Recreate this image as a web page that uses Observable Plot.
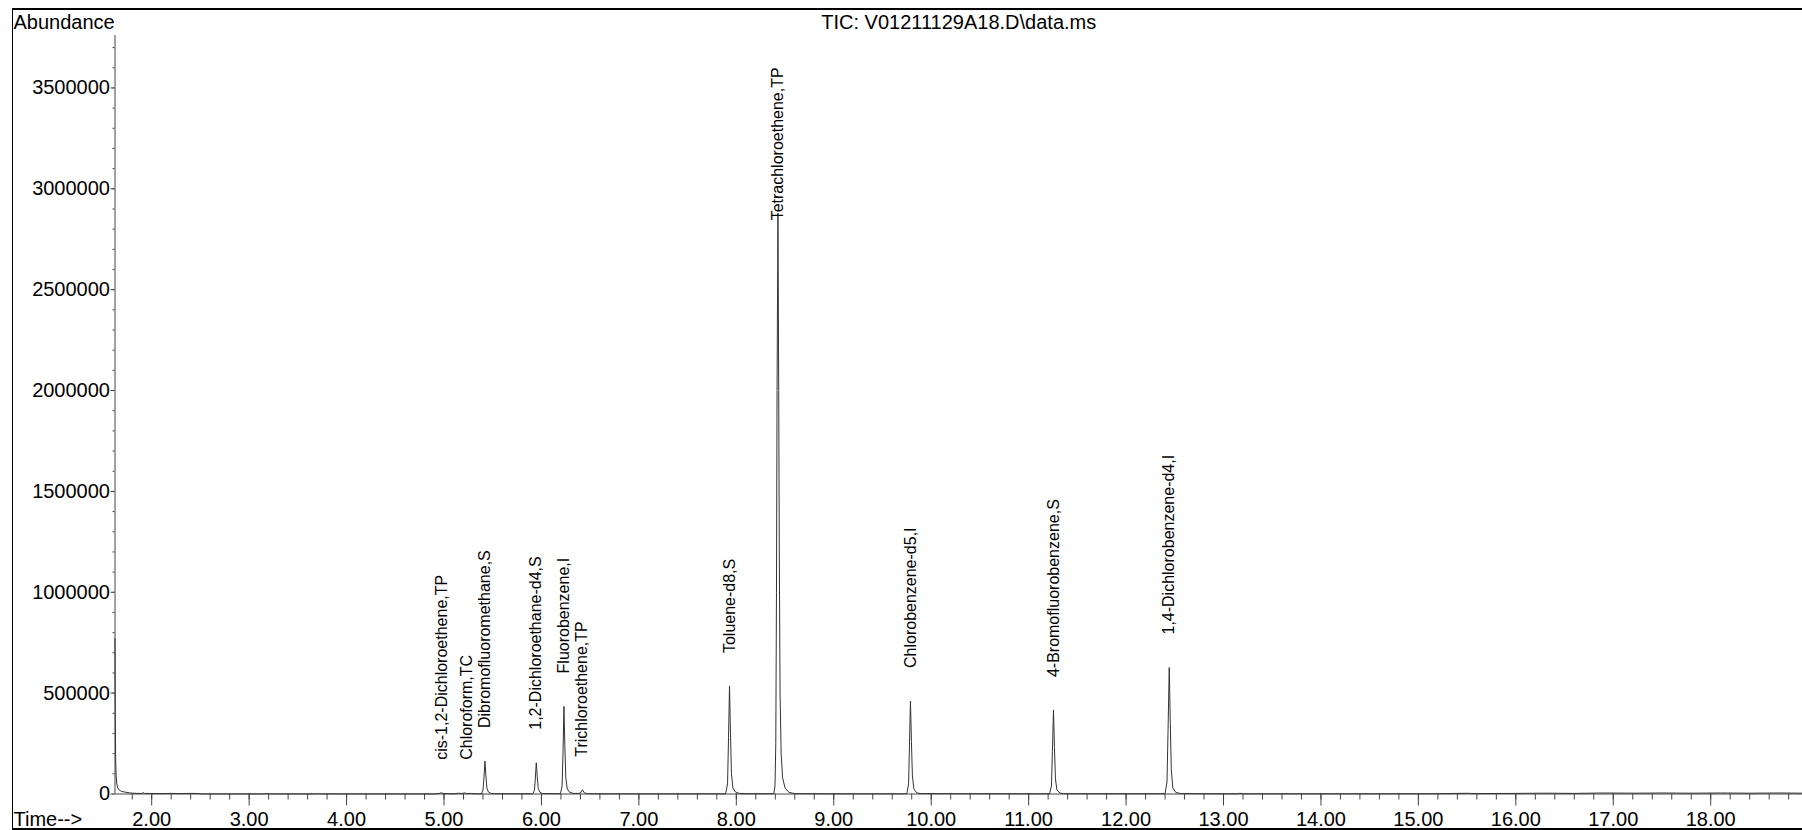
<!DOCTYPE html>
<html>
<head>
<meta charset="utf-8">
<script src="https://cdn.jsdelivr.net/npm/d3@7"></script>
<script src="https://cdn.jsdelivr.net/npm/@observablehq/plot@0.6"></script>
<style>
  html, body { margin: 0; padding: 0; background: #fff; }
  #wrap { position: relative; width: 1802px; height: 830px; overflow: hidden; }
  #wrap svg { position: absolute; left: 0; top: 0; }
  #border {
    position: absolute; left: 12px; top: 8px; width: 1790px; height: 818px;
    border-left: 1px solid #000; border-top: 2px solid #000; border-bottom: 2px solid #000;
    pointer-events: none;
  }
</style>
</head>
<body>
<div id="wrap"><div id="border"></div></div>
<script>
// Total ion chromatogram, run V01211129A18
const fileTitle = "TIC: V01211129A18.D\\data.ms";
const yTitle = "Abundance";
const xTitle = "Time-->";

// Retention-time window shown (minutes) and abundance range
const timeDomain = [1.6234, 18.942];
const abundanceDomain = [0, 3760000];

// Axis tick values
const xTicks = [2, 3, 4, 5, 6, 7, 8, 9, 10, 11, 12, 13, 14, 15, 16, 17, 18];
const yTicks = [0, 500000, 1000000, 1500000, 2000000, 2500000, 3000000, 3500000];

// Identified compounds: name, retention time, label anchor abundance
const peakNames = [
  "cis-1,2-Dichloroethene,TP", "Chloroform,TC", "Dibromofluoromethane,S",
  "1,2-Dichloroethane-d4,S", "Fluorobenzene,I", "Trichloroethene,TP",
  "Toluene-d8,S", "Tetrachloroethene,TP", "Chlorobenzene-d5,I",
  "4-Bromofluorobenzene,S", "1,4-Dichlorobenzene-d4,I"
];
const peakTimes = [4.98, 5.23, 5.42, 5.947, 6.231, 6.42, 7.93, 8.427, 9.787, 11.255, 12.443];
const labelLevels = [6000, 6000, 163000, 155000, 434000, 21000, 535000, 2680000, 461000, 416000, 627000];

// TIC trace: retention time (min)
const traceTime = [
  1.623, 1.626, 1.630, 1.635, 1.642, 1.652, 1.665, 1.690, 1.730, 1.780, 1.850, 1.900, 1.912, 1.925,
  2.000, 2.100, 2.200, 2.300, 2.400, 2.480, 2.520, 3.150, 3.180, 3.210, 3.700, 3.720, 3.740,
  3.820, 3.840, 3.860, 4.900, 4.950, 4.970, 4.990, 5.100, 5.150, 5.180, 5.210, 5.240, 5.280, 5.320,
  5.385, 5.400, 5.410, 5.420, 5.430, 5.440, 5.455, 5.480, 5.520,
  5.910, 5.928, 5.937, 5.947, 5.957, 5.967, 5.985, 6.010,
  6.195, 6.212, 6.222, 6.231, 6.240, 6.250, 6.265, 6.290, 6.330, 6.380,
  6.400, 6.420, 6.440, 6.470, 6.520, 7.000, 7.500,
  7.890, 7.910, 7.920, 7.930, 7.940, 7.950, 7.965, 7.990, 8.030, 8.100, 8.300,
  8.385, 8.397, 8.405, 8.412, 8.418, 8.427, 8.435, 8.441, 8.449, 8.460, 8.475, 8.500, 8.540, 8.600,
  9.000, 9.700,
  9.750, 9.768, 9.777, 9.787, 9.797, 9.807, 9.822, 9.850, 9.890, 11.000,
  11.215, 11.234, 11.244, 11.255, 11.265, 11.275, 11.290, 11.320, 11.360,
  12.400, 12.420, 12.431, 12.443, 12.454, 12.464, 12.480, 12.510, 12.560,
  13.150, 13.170, 13.190, 14.500, 15.200, 15.500, 15.600, 16.000, 16.300, 16.600, 16.900,
  17.200, 17.500, 17.800, 18.100, 18.400, 18.700, 18.942
];
// TIC trace: abundance
const traceAbundance = [
  770000, 420000, 180000, 90000, 50000, 30000, 20000, 13000, 9000, 5000, 3000, 2500, 7000, 3000,
  2500, 2000, 3000, 2000, 3000, 2500, 500, 500, 2500, 500, 500, 2000, 500,
  500, 2000, 500, 500, 2500, 6000, 2500, 1000, 4000, 2000, 5000, 2000, 3000, 1000,
  1000, 20000, 80000, 163000, 90000, 30000, 10000, 3000, 1500,
  1000, 18000, 75000, 155000, 85000, 28000, 8000, 2500,
  1500, 40000, 220000, 434000, 240000, 80000, 25000, 8000, 3000, 3000,
  5000, 21000, 6000, 2000, 1000, 800, 800,
  1000, 50000, 280000, 535000, 300000, 100000, 30000, 10000, 3000, 1500, 1500,
  2000, 40000, 250000, 1000000, 2000000, 2880000, 2000000, 1200000, 500000, 200000, 80000, 30000, 8000, 2000,
  1000, 1000,
  1500, 50000, 240000, 461000, 260000, 90000, 25000, 6000, 2000, 1000,
  1000, 40000, 210000, 416000, 230000, 75000, 20000, 5000, 1500,
  1500, 60000, 320000, 627000, 350000, 120000, 30000, 8000, 2000,
  1000, 4000, 1000, 1000, 1500, 3500, 2000, 3000, 4000, 3000, 5000,
  4000, 5000, 4000, 5000, 4000, 5000, 4000
];

const trace = traceTime.map((t, i) => ({time: t, abundance: traceAbundance[i]}));
const peaks = peakNames.map((name, i) => ({name, time: peakTimes[i], level: labelLevels[i]}));

const xMinor = d3.range(18, 190, 2).map(d => d / 10);
const yMinor = d3.range(0, 38).map(d => d * 100000);

const font = "'Liberation Sans', Arial, Helvetica, sans-serif";

const chart = Plot.plot({
  width: 1802,
  height: 830,
  marginLeft: 114.5,
  marginRight: 0,
  marginTop: 35,
  marginBottom: 36.5,
  style: {fontFamily: font, fontSize: "20px", color: "#000", background: "transparent"},
  x: {domain: timeDomain},
  y: {domain: abundanceDomain},
  marks: [
    // minor and major ticks
    Plot.axisX(xMinor, {tickSize: 6, text: null, label: null, stroke: "#444"}),
    Plot.axisX(xTicks, {tickSize: 12, tickPadding: 6, tickFormat: d3.format(".2f"), label: null,
      stroke: "#444", fill: "#000", fontSize: 20}),
    Plot.axisY(yMinor, {tickSize: 2, text: null, label: null, stroke: "#444"}),
    Plot.axisY(yTicks, {tickSize: 4, tickPadding: 1, tickFormat: d3.format("d"), label: null,
      stroke: "#444", fill: "#000", fontSize: 20}),
    // axis lines
    Plot.ruleY([abundanceDomain[0]], {stroke: "#444"}),
    Plot.ruleX([timeDomain[0]], {stroke: "#444"}),
    // chromatogram trace
    Plot.line(trace, {x: "time", y: "abundance", stroke: "#333", strokeWidth: 1}),
    // compound labels
    Plot.text(peaks, {x: "time", y: "level", text: "name", rotate: -90, textAnchor: "start",
      dy: -33, fontSize: 16, fill: "#000"}),
    // titles
    Plot.text([fileTitle], {frameAnchor: "top", lineAnchor: "bottom", dy: -6.7, fontSize: 20, fill: "#000"}),
    Plot.text([yTitle], {frameAnchor: "top-left", textAnchor: "start", lineAnchor: "bottom",
      dx: -101.5, dy: -6.7, fontSize: 20, fill: "#000"}),
    Plot.text([xTitle], {frameAnchor: "bottom-left", textAnchor: "start", lineAnchor: "bottom",
      dx: -101.5, dy: 32, fontSize: 20, fill: "#000"})
  ]
});

document.getElementById("wrap").prepend(chart);
</script>
</body>
</html>
